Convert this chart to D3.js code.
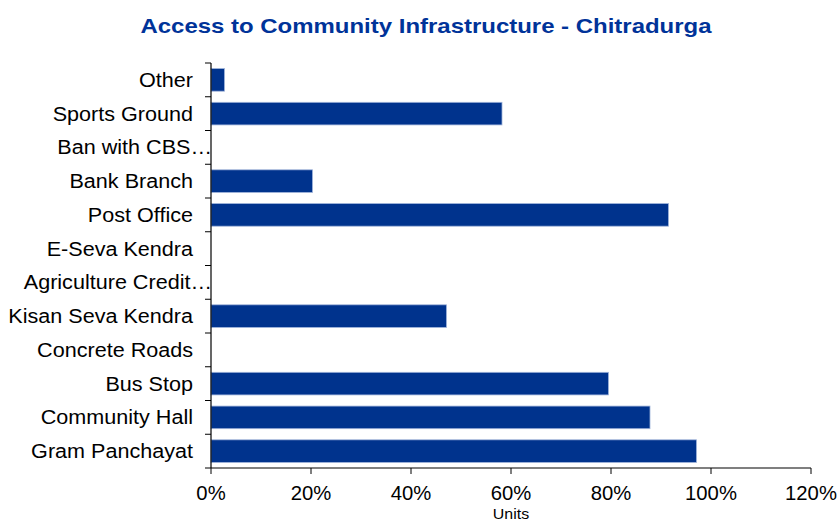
<!DOCTYPE html>
<html><head><meta charset="utf-8">
<script src="https://cdn.jsdelivr.net/npm/d3@7"></script>
<style>body{margin:0;background:#fff}svg{display:block}text{font-family:"Liberation Sans",Arial,sans-serif}</style>
</head><body><svg id="c" width="839" height="522"></svg>
<script>
const categories = ["Other","Sports Ground","Ban with CBS…","Bank Branch","Post Office","E-Seva Kendra","Agriculture Credit…","Kisan Seva Kendra","Concrete Roads","Bus Stop","Community Hall","Gram Panchayat"];
const values = [2.7, 58.2, 0, 20.3, 91.5, 0, 0, 47.1, 0, 79.5, 87.8, 97.1];
const xTicks = [0, 20, 40, 60, 80, 100, 120];
const title = "Access to Community Infrastructure - Chitradurga";
const xTitle = "Units";

const svg = d3.select("#c");
const m = {l:211, r:811, t:63, b:468};
const x = d3.scaleLinear().domain([0,120]).range([m.l, m.r]);
const y = d3.scaleBand().domain(categories).range([m.t, m.b]).paddingInner(0.33).paddingOuter(0.165);
const yb = d3.scaleBand().domain(categories).range([m.t, m.b]);

svg.append("text").attr("x", 426).attr("y", 33).attr("text-anchor","middle")
  .attr("font-size", 21).attr("font-weight","bold").attr("fill","#003399")
  .attr("textLength", 571).attr("lengthAdjust","spacingAndGlyphs").text(title);

svg.selectAll("rect.bar").data(categories).enter().append("rect").attr("class","bar")
  .attr("x", x(0)).attr("y", d=>y(d)).attr("height", y.bandwidth())
  .attr("width", (d,i)=>Math.max(0, x(values[i])-x(0)))
  .attr("fill","#00338D").attr("stroke","#9fb3da").attr("stroke-width",0.8)
  .style("display",(d,i)=>values[i]>0?null:"none");

// y axis
const gy = svg.append("g");
gy.append("line").attr("x1",m.l).attr("x2",m.l).attr("y1",m.t).attr("y2",m.b).attr("stroke","#000").attr("stroke-width",1.2);
const yTickPos = categories.map(c=>yb(c)).concat([m.b]);
gy.selectAll("line.t").data(yTickPos).enter().append("line").attr("class","t")
  .attr("x1",m.l-6).attr("x2",m.l).attr("y1",d=>d).attr("y2",d=>d).attr("stroke","#000").attr("stroke-width",1);
gy.selectAll("text").data(categories).enter().append("text")
  .attr("transform", d=>`translate(${d.endsWith("…")?m.l+1:m.l-18},${yb(d)+yb.bandwidth()/2}) scale(1.09,1)`)
  .attr("dy","0.35em")
  .attr("text-anchor","end").attr("font-size",19.8).attr("fill","#000").text(d=>d);

// x axis
const gx = svg.append("g");
gx.append("line").attr("x1",m.l).attr("x2",m.r).attr("y1",m.b).attr("y2",m.b).attr("stroke","#000").attr("stroke-width",1.2);
gx.selectAll("line.t").data(xTicks).enter().append("line").attr("class","t")
  .attr("x1",d=>x(d)).attr("x2",d=>x(d)).attr("y1",m.b).attr("y2",m.b+6).attr("stroke","#000").attr("stroke-width",1);
gx.selectAll("text").data(xTicks).enter().append("text")
  .attr("transform", d=>`translate(${x(d)},500) scale(1.04,1)`)
  .attr("text-anchor","middle").attr("font-size",19.5).attr("fill","#000").text(d=>d+"%");
svg.append("text").attr("transform",`translate(${(m.l+m.r)/2},518.5) scale(1.1,1)`).attr("text-anchor","middle").attr("font-size",14.5).attr("fill","#000").text(xTitle);
</script></body></html>
